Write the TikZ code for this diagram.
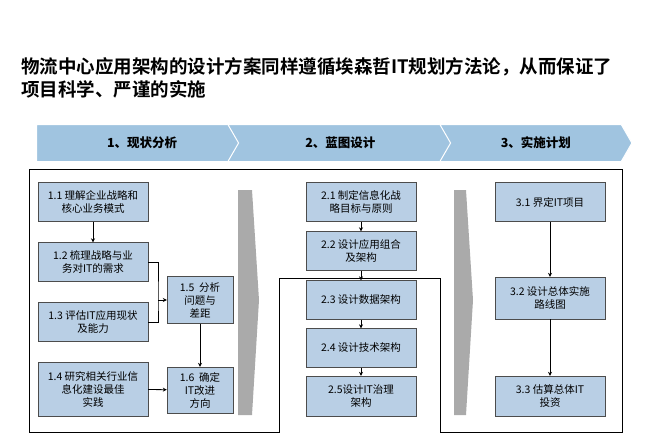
\documentclass[tikz,border=0pt]{standalone}
\usepackage{fontspec}
\setmainfont{Noto Sans CJK SC}
\newfontfamily\titlefont{Noto Sans CJK SC Bold}
\usetikzlibrary{positioning,arrows.meta,shapes.symbols}
\definecolor{boxblue}{RGB}{185,207,229}
\definecolor{headblue}{RGB}{160,196,224}
\definecolor{arrowgray}{RGB}{170,170,170}
\begin{document}
\begin{tikzpicture}[x=1pt,y=-1pt]
    \tikzstyle{every node}=[inner sep=0]
    \tikzstyle{stepbox}=[draw=black!70,fill=boxblue,rectangle,minimum width=110,minimum height=39,align=center,font=\fontsize{10.5}{13}\selectfont]
    \tikzstyle{phase}=[fill=headblue,draw=white,line width=1,signal,signal to=east,signal from=west,signal pointer angle=120,minimum height=37,font=\fontsize{12.5}{14}\selectfont\bfseries]
    \tikzstyle{flow}=[->,>={Stealth[length=4,width=4]},thick]
    \useasboundingbox (0,0) rectangle (647,440);
    % title
    \node[anchor=north west,align=left,font=\titlefont\fontsize{18.5}{23}\selectfont] (title) at (21,57)
        {物流中心应用架构的设计方案同样遵循埃森哲IT规划方法论，从而保证了\\项目科学、严谨的实施};
    % phases
    \node[phase,minimum width=222,anchor=west,signal from=nowhere] (p1) at (36,143) {1、现状分析};
    \node[phase,minimum width=225,anchor=west] (p2) at (238,143) {2、蓝图设计};
    \node[phase,minimum width=192,anchor=west] (p3) at (450,143) {3、实施计划};
    % outline
    \draw[thick] (29,169) -- (622,169) -- (622,432) -- (440,432) -- (440,278)
        -- (279,278) -- (279,432) -- (29,432) -- cycle;
    % gray arrows
    \fill[arrowgray] (238,190) -- (252,190) -- (259,300) -- (252,415) -- (238,415) -- cycle;
    \fill[arrowgray] (454,190) -- (466,190) -- (473,300) -- (466,415) -- (454,415) -- cycle;
    % phase 1
    \node[stepbox] (s11) at (93,202) {1.1 理解企业战略和\\核心业务模式};
    \node[stepbox] (s12) at (93,262) {1.2 梳理战略与业\\务对IT的需求};
    \node[stepbox] (s13) at (93,322) {1.3 评估IT应用现状\\及能力};
    \node[stepbox,minimum height=54] (s14) at (93,389) {1.4 研究相关行业信\\息化建设最佳\\实践};
    \node[stepbox,minimum width=66,minimum height=47] (s15) at (200,300) {1.5\ \ 分析\\问题与\\差距};
    \node[stepbox,minimum width=66,minimum height=46] (s16) at (200,390) {1.6\ \ 确定\\IT改进\\方向};
    \coordinate (j1) at (158,300);
    \draw[flow] (s11) -- (s12);
    \draw[thick] (s12.east) -| (j1) |- (s13.east);
    \draw[flow] (j1) -- (s15);
    \draw[flow] (s15) -- (s16);
    \draw[flow] (s14) -- (s16);
    % phase 2
    \node[stepbox] (s21) at (361,202) {2.1 制定信息化战\\略目标与原则};
    \node[stepbox] (s22) at (361,251) {2.2 设计应用组合\\及架构};
    \node[stepbox] (s23) at (361,300) {2.3 设计数据架构};
    \node[stepbox] (s24) at (361,348) {2.4 设计技术架构};
    \node[stepbox,minimum height=40] (s25) at (361,396) {2.5设计IT治理\\架构};
    \foreach \a/\b in {s21/s22,s22/s23,s23/s24,s24/s25}
        \draw[flow] (\a) -- (\b);
    % phase 3
    \node[stepbox] (s31) at (550,202) {3.1 界定IT项目};
    \node[stepbox,minimum height=42] (s32) at (550,298) {3.2 设计总体实施\\路线图};
    \node[stepbox,minimum height=40] (s33) at (550,396) {3.3 估算总体IT\\投资};
    \draw[flow] (s31) -- (s32);
    \draw[flow] (s32) -- (s33);
\end{tikzpicture}
\end{document}
